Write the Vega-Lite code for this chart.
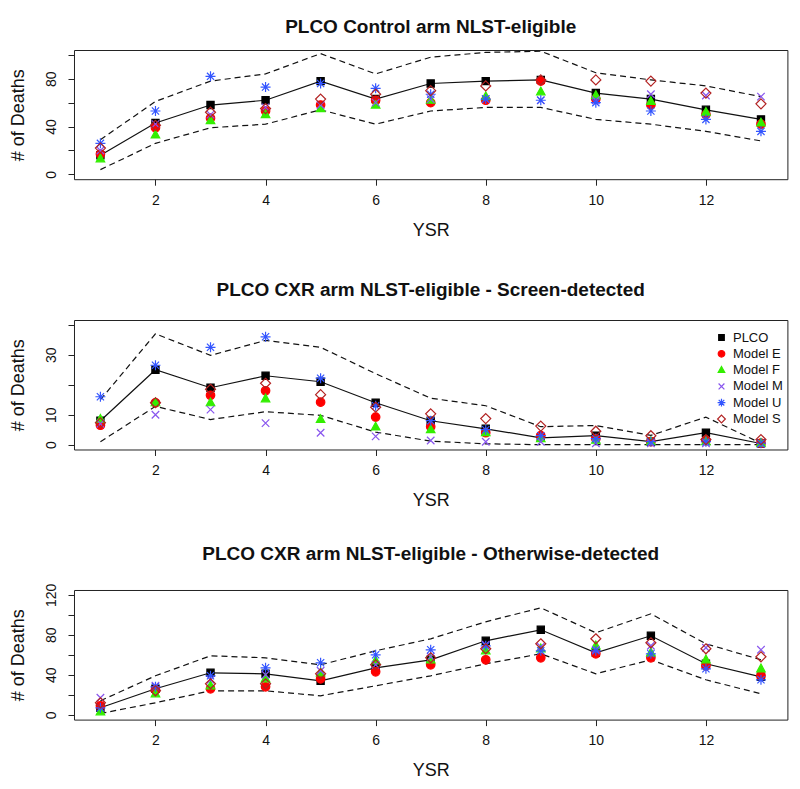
{
  "$schema": "https://vega.github.io/schema/vega-lite/v6.json",
  "background": "white",
  "padding": {"left": 9, "top": 17, "right": 5, "bottom": 5},
  "spacing": 140,
  "bounds": "flush",
  "datasets": {
    "pts": [
      {"p":1,"x":1,"s":"PLCO","y":16},{"p":1,"x":1,"s":"Model E","y":17},{"p":1,"x":1,"s":"Model F","y":13},{"p":1,"x":1,"s":"Model M","y":20},{"p":1,"x":1,"s":"Model U","y":26},{"p":1,"x":1,"s":"Model S","y":22},
      {"p":1,"x":2,"s":"PLCO","y":43},{"p":1,"x":2,"s":"Model E","y":39},{"p":1,"x":2,"s":"Model F","y":33},{"p":1,"x":2,"s":"Model M","y":42},{"p":1,"x":2,"s":"Model U","y":53},{"p":1,"x":2,"s":"Model S","y":41},
      {"p":1,"x":3,"s":"PLCO","y":58},{"p":1,"x":3,"s":"Model E","y":47},{"p":1,"x":3,"s":"Model F","y":45},{"p":1,"x":3,"s":"Model M","y":50},{"p":1,"x":3,"s":"Model U","y":82},{"p":1,"x":3,"s":"Model S","y":52},
      {"p":1,"x":4,"s":"PLCO","y":62},{"p":1,"x":4,"s":"Model E","y":53},{"p":1,"x":4,"s":"Model F","y":50},{"p":1,"x":4,"s":"Model M","y":56},{"p":1,"x":4,"s":"Model U","y":73},{"p":1,"x":4,"s":"Model S","y":55},
      {"p":1,"x":5,"s":"PLCO","y":78},{"p":1,"x":5,"s":"Model E","y":58},{"p":1,"x":5,"s":"Model F","y":55},{"p":1,"x":5,"s":"Model M","y":58},{"p":1,"x":5,"s":"Model U","y":76},{"p":1,"x":5,"s":"Model S","y":63},
      {"p":1,"x":6,"s":"PLCO","y":63},{"p":1,"x":6,"s":"Model E","y":62},{"p":1,"x":6,"s":"Model F","y":58},{"p":1,"x":6,"s":"Model M","y":60},{"p":1,"x":6,"s":"Model U","y":72},{"p":1,"x":6,"s":"Model S","y":67},
      {"p":1,"x":7,"s":"PLCO","y":76},{"p":1,"x":7,"s":"Model E","y":60},{"p":1,"x":7,"s":"Model F","y":62},{"p":1,"x":7,"s":"Model M","y":63},{"p":1,"x":7,"s":"Model U","y":67},{"p":1,"x":7,"s":"Model S","y":70},
      {"p":1,"x":8,"s":"PLCO","y":78},{"p":1,"x":8,"s":"Model E","y":62},{"p":1,"x":8,"s":"Model F","y":65},{"p":1,"x":8,"s":"Model M","y":63},{"p":1,"x":8,"s":"Model U","y":63},{"p":1,"x":8,"s":"Model S","y":74},
      {"p":1,"x":9,"s":"PLCO","y":79},{"p":1,"x":9,"s":"Model E","y":78},{"p":1,"x":9,"s":"Model F","y":69},{"p":1,"x":9,"s":"Model M","y":62},{"p":1,"x":9,"s":"Model U","y":62},{"p":1,"x":9,"s":"Model S","y":79},
      {"p":1,"x":10,"s":"PLCO","y":68},{"p":1,"x":10,"s":"Model E","y":63},{"p":1,"x":10,"s":"Model F","y":66},{"p":1,"x":10,"s":"Model M","y":62},{"p":1,"x":10,"s":"Model U","y":60},{"p":1,"x":10,"s":"Model S","y":79},
      {"p":1,"x":11,"s":"PLCO","y":63},{"p":1,"x":11,"s":"Model E","y":58},{"p":1,"x":11,"s":"Model F","y":61},{"p":1,"x":11,"s":"Model M","y":67},{"p":1,"x":11,"s":"Model U","y":53},{"p":1,"x":11,"s":"Model S","y":78},
      {"p":1,"x":12,"s":"PLCO","y":54},{"p":1,"x":12,"s":"Model E","y":50},{"p":1,"x":12,"s":"Model F","y":52},{"p":1,"x":12,"s":"Model M","y":66},{"p":1,"x":12,"s":"Model U","y":46},{"p":1,"x":12,"s":"Model S","y":68},
      {"p":1,"x":13,"s":"PLCO","y":46},{"p":1,"x":13,"s":"Model E","y":42},{"p":1,"x":13,"s":"Model F","y":43},{"p":1,"x":13,"s":"Model M","y":65},{"p":1,"x":13,"s":"Model U","y":36},{"p":1,"x":13,"s":"Model S","y":59},

      {"p":2,"x":1,"s":"PLCO","y":8},{"p":2,"x":1,"s":"Model E","y":6.5},{"p":2,"x":1,"s":"Model F","y":8.5},{"p":2,"x":1,"s":"Model M","y":7},{"p":2,"x":1,"s":"Model U","y":16},{"p":2,"x":1,"s":"Model S","y":7.3},
      {"p":2,"x":2,"s":"PLCO","y":25},{"p":2,"x":2,"s":"Model E","y":14},{"p":2,"x":2,"s":"Model F","y":14},{"p":2,"x":2,"s":"Model M","y":10},{"p":2,"x":2,"s":"Model U","y":26.5},{"p":2,"x":2,"s":"Model S","y":14},
      {"p":2,"x":3,"s":"PLCO","y":19},{"p":2,"x":3,"s":"Model E","y":16.5},{"p":2,"x":3,"s":"Model F","y":14},{"p":2,"x":3,"s":"Model M","y":11.7},{"p":2,"x":3,"s":"Model U","y":32.5},{"p":2,"x":3,"s":"Model S","y":18.5},
      {"p":2,"x":4,"s":"PLCO","y":23},{"p":2,"x":4,"s":"Model E","y":18},{"p":2,"x":4,"s":"Model F","y":15.3},{"p":2,"x":4,"s":"Model M","y":7.2},{"p":2,"x":4,"s":"Model U","y":36},{"p":2,"x":4,"s":"Model S","y":20.5},
      {"p":2,"x":5,"s":"PLCO","y":21},{"p":2,"x":5,"s":"Model E","y":14.2},{"p":2,"x":5,"s":"Model F","y":8.4},{"p":2,"x":5,"s":"Model M","y":4},{"p":2,"x":5,"s":"Model U","y":22.2},{"p":2,"x":5,"s":"Model S","y":16.7},
      {"p":2,"x":6,"s":"PLCO","y":14},{"p":2,"x":6,"s":"Model E","y":9.2},{"p":2,"x":6,"s":"Model F","y":5.9},{"p":2,"x":6,"s":"Model M","y":2.8},{"p":2,"x":6,"s":"Model U","y":13},{"p":2,"x":6,"s":"Model S","y":12.5},
      {"p":2,"x":7,"s":"PLCO","y":8},{"p":2,"x":7,"s":"Model E","y":6},{"p":2,"x":7,"s":"Model F","y":5},{"p":2,"x":7,"s":"Model M","y":1.4},{"p":2,"x":7,"s":"Model U","y":8},{"p":2,"x":7,"s":"Model S","y":10.3},
      {"p":2,"x":8,"s":"PLCO","y":5.3},{"p":2,"x":8,"s":"Model E","y":4},{"p":2,"x":8,"s":"Model F","y":4},{"p":2,"x":8,"s":"Model M","y":1},{"p":2,"x":8,"s":"Model U","y":5},{"p":2,"x":8,"s":"Model S","y":8.7},
      {"p":2,"x":9,"s":"PLCO","y":2.3},{"p":2,"x":9,"s":"Model E","y":3},{"p":2,"x":9,"s":"Model F","y":2},{"p":2,"x":9,"s":"Model M","y":1},{"p":2,"x":9,"s":"Model U","y":3},{"p":2,"x":9,"s":"Model S","y":6.2},
      {"p":2,"x":10,"s":"PLCO","y":3},{"p":2,"x":10,"s":"Model E","y":2},{"p":2,"x":10,"s":"Model F","y":1.5},{"p":2,"x":10,"s":"Model M","y":0.5},{"p":2,"x":10,"s":"Model U","y":2},{"p":2,"x":10,"s":"Model S","y":4.5},
      {"p":2,"x":11,"s":"PLCO","y":1},{"p":2,"x":11,"s":"Model E","y":1},{"p":2,"x":11,"s":"Model F","y":1},{"p":2,"x":11,"s":"Model M","y":0.5},{"p":2,"x":11,"s":"Model U","y":1},{"p":2,"x":11,"s":"Model S","y":3},
      {"p":2,"x":12,"s":"PLCO","y":4},{"p":2,"x":12,"s":"Model E","y":1.5},{"p":2,"x":12,"s":"Model F","y":1},{"p":2,"x":12,"s":"Model M","y":0.5},{"p":2,"x":12,"s":"Model U","y":1},{"p":2,"x":12,"s":"Model S","y":1.7},
      {"p":2,"x":13,"s":"PLCO","y":0.4},{"p":2,"x":13,"s":"Model E","y":0.5},{"p":2,"x":13,"s":"Model F","y":0.5},{"p":2,"x":13,"s":"Model M","y":0.3},{"p":2,"x":13,"s":"Model U","y":0.5},{"p":2,"x":13,"s":"Model S","y":1.7},

      {"p":3,"x":1,"s":"PLCO","y":7},{"p":3,"x":1,"s":"Model E","y":9},{"p":3,"x":1,"s":"Model F","y":3},{"p":3,"x":1,"s":"Model M","y":17},{"p":3,"x":1,"s":"Model U","y":7},{"p":3,"x":1,"s":"Model S","y":12},
      {"p":3,"x":2,"s":"PLCO","y":26},{"p":3,"x":2,"s":"Model E","y":25},{"p":3,"x":2,"s":"Model F","y":21},{"p":3,"x":2,"s":"Model M","y":29},{"p":3,"x":2,"s":"Model U","y":28},{"p":3,"x":2,"s":"Model S","y":24},
      {"p":3,"x":3,"s":"PLCO","y":42},{"p":3,"x":3,"s":"Model E","y":26},{"p":3,"x":3,"s":"Model F","y":29},{"p":3,"x":3,"s":"Model M","y":35},{"p":3,"x":3,"s":"Model U","y":39},{"p":3,"x":3,"s":"Model S","y":31},
      {"p":3,"x":4,"s":"PLCO","y":41},{"p":3,"x":4,"s":"Model E","y":28},{"p":3,"x":4,"s":"Model F","y":36},{"p":3,"x":4,"s":"Model M","y":40},{"p":3,"x":4,"s":"Model U","y":47},{"p":3,"x":4,"s":"Model S","y":31},
      {"p":3,"x":5,"s":"PLCO","y":34},{"p":3,"x":5,"s":"Model E","y":36},{"p":3,"x":5,"s":"Model F","y":42},{"p":3,"x":5,"s":"Model M","y":44},{"p":3,"x":5,"s":"Model U","y":52},{"p":3,"x":5,"s":"Model S","y":41},
      {"p":3,"x":6,"s":"PLCO","y":47},{"p":3,"x":6,"s":"Model E","y":43},{"p":3,"x":6,"s":"Model F","y":54},{"p":3,"x":6,"s":"Model M","y":50},{"p":3,"x":6,"s":"Model U","y":60},{"p":3,"x":6,"s":"Model S","y":50},
      {"p":3,"x":7,"s":"PLCO","y":55},{"p":3,"x":7,"s":"Model E","y":50},{"p":3,"x":7,"s":"Model F","y":55},{"p":3,"x":7,"s":"Model M","y":58},{"p":3,"x":7,"s":"Model U","y":65},{"p":3,"x":7,"s":"Model S","y":57},
      {"p":3,"x":8,"s":"PLCO","y":74},{"p":3,"x":8,"s":"Model E","y":55},{"p":3,"x":8,"s":"Model F","y":64},{"p":3,"x":8,"s":"Model M","y":70},{"p":3,"x":8,"s":"Model U","y":69},{"p":3,"x":8,"s":"Model S","y":66},
      {"p":3,"x":9,"s":"PLCO","y":85},{"p":3,"x":9,"s":"Model E","y":57},{"p":3,"x":9,"s":"Model F","y":66},{"p":3,"x":9,"s":"Model M","y":68},{"p":3,"x":9,"s":"Model U","y":64},{"p":3,"x":9,"s":"Model S","y":71},
      {"p":3,"x":10,"s":"PLCO","y":62},{"p":3,"x":10,"s":"Model E","y":61},{"p":3,"x":10,"s":"Model F","y":69},{"p":3,"x":10,"s":"Model M","y":65},{"p":3,"x":10,"s":"Model U","y":64},{"p":3,"x":10,"s":"Model S","y":76},
      {"p":3,"x":11,"s":"PLCO","y":79},{"p":3,"x":11,"s":"Model E","y":57},{"p":3,"x":11,"s":"Model F","y":62},{"p":3,"x":11,"s":"Model M","y":69},{"p":3,"x":11,"s":"Model U","y":61},{"p":3,"x":11,"s":"Model S","y":72},
      {"p":3,"x":12,"s":"PLCO","y":51},{"p":3,"x":12,"s":"Model E","y":49},{"p":3,"x":12,"s":"Model F","y":55},{"p":3,"x":12,"s":"Model M","y":67},{"p":3,"x":12,"s":"Model U","y":46},{"p":3,"x":12,"s":"Model S","y":66},
      {"p":3,"x":13,"s":"PLCO","y":38},{"p":3,"x":13,"s":"Model E","y":39},{"p":3,"x":13,"s":"Model F","y":46},{"p":3,"x":13,"s":"Model M","y":65},{"p":3,"x":13,"s":"Model U","y":35},{"p":3,"x":13,"s":"Model S","y":58}
    ],
    "bands": [
      {"p":1,"x":1,"b":"upper","y":29},{"p":1,"x":2,"b":"upper","y":61},{"p":1,"x":3,"b":"upper","y":78},{"p":1,"x":4,"b":"upper","y":84},{"p":1,"x":5,"b":"upper","y":101},{"p":1,"x":6,"b":"upper","y":84},{"p":1,"x":7,"b":"upper","y":98},{"p":1,"x":8,"b":"upper","y":102},{"p":1,"x":9,"b":"upper","y":103},{"p":1,"x":10,"b":"upper","y":85},{"p":1,"x":11,"b":"upper","y":79},{"p":1,"x":12,"b":"upper","y":74},{"p":1,"x":13,"b":"upper","y":65},
      {"p":1,"x":1,"b":"lower","y":4},{"p":1,"x":2,"b":"lower","y":26},{"p":1,"x":3,"b":"lower","y":39},{"p":1,"x":4,"b":"lower","y":42},{"p":1,"x":5,"b":"lower","y":54},{"p":1,"x":6,"b":"lower","y":42},{"p":1,"x":7,"b":"lower","y":53},{"p":1,"x":8,"b":"lower","y":56},{"p":1,"x":9,"b":"lower","y":56},{"p":1,"x":10,"b":"lower","y":46},{"p":1,"x":11,"b":"lower","y":42},{"p":1,"x":12,"b":"lower","y":36},{"p":1,"x":13,"b":"lower","y":28},
      {"p":2,"x":1,"b":"upper","y":15},{"p":2,"x":2,"b":"upper","y":37},{"p":2,"x":3,"b":"upper","y":29.8},{"p":2,"x":4,"b":"upper","y":34.8},{"p":2,"x":5,"b":"upper","y":32.5},{"p":2,"x":6,"b":"upper","y":23.7},{"p":2,"x":7,"b":"upper","y":15.5},{"p":2,"x":8,"b":"upper","y":13},{"p":2,"x":9,"b":"upper","y":6},{"p":2,"x":10,"b":"upper","y":6.4},{"p":2,"x":11,"b":"upper","y":3.1},{"p":2,"x":12,"b":"upper","y":9.2},{"p":2,"x":13,"b":"upper","y":0.5},
      {"p":2,"x":1,"b":"lower","y":1},{"p":2,"x":2,"b":"lower","y":12.8},{"p":2,"x":3,"b":"lower","y":8.4},{"p":2,"x":4,"b":"lower","y":11},{"p":2,"x":5,"b":"lower","y":9.8},{"p":2,"x":6,"b":"lower","y":4.2},{"p":2,"x":7,"b":"lower","y":1.2},{"p":2,"x":8,"b":"lower","y":0.3},{"p":2,"x":9,"b":"lower","y":0},{"p":2,"x":10,"b":"lower","y":0},{"p":2,"x":11,"b":"lower","y":0},{"p":2,"x":12,"b":"lower","y":0},{"p":2,"x":13,"b":"lower","y":0},
      {"p":3,"x":1,"b":"upper","y":14},{"p":3,"x":2,"b":"upper","y":39},{"p":3,"x":3,"b":"upper","y":59},{"p":3,"x":4,"b":"upper","y":57},{"p":3,"x":5,"b":"upper","y":50},{"p":3,"x":6,"b":"upper","y":64},{"p":3,"x":7,"b":"upper","y":76},{"p":3,"x":8,"b":"upper","y":93},{"p":3,"x":9,"b":"upper","y":107},{"p":3,"x":10,"b":"upper","y":82},{"p":3,"x":11,"b":"upper","y":101},{"p":3,"x":12,"b":"upper","y":71},{"p":3,"x":13,"b":"upper","y":55},
      {"p":3,"x":1,"b":"lower","y":1.3},{"p":3,"x":2,"b":"lower","y":12},{"p":3,"x":3,"b":"lower","y":24},{"p":3,"x":4,"b":"lower","y":24},{"p":3,"x":5,"b":"lower","y":19},{"p":3,"x":6,"b":"lower","y":29},{"p":3,"x":7,"b":"lower","y":39},{"p":3,"x":8,"b":"lower","y":51},{"p":3,"x":9,"b":"lower","y":61},{"p":3,"x":10,"b":"lower","y":41},{"p":3,"x":11,"b":"lower","y":55},{"p":3,"x":12,"b":"lower","y":35},{"p":3,"x":13,"b":"lower","y":21}
    ]
  },
  "vconcat": [
    {
      "title": {"text": "PLCO Control arm NLST-eligible", "offset": 12},
      "width": 713.4,
      "height": 129.2,
      "resolve": {"scale": {"shape": "independent", "fill": "independent", "stroke": "independent"}},
      "encoding": {
        "x": {"field": "x", "type": "quantitative", "scale": {"domain": [0.52, 13.48], "nice": false, "zero": false}, "axis": {"values": [2, 4, 6, 8, 10, 12], "title": "YSR"}},
        "y": {"field": "y", "type": "quantitative", "scale": {"domain": [-4, 104], "nice": false, "zero": false}, "axis": {"values": [0, 20, 40, 60, 80, 100], "labelExpr": "datum.value % 40 == 0 ? datum.label : ''", "title": "# of Deaths", "labelAngle": 270, "labelAlign": "center", "labelBaseline": "bottom", "labelPadding": 9}}
      },
      "layer": [
        {"data": {"name": "bands"}, "transform": [{"filter": "datum.p == 1"}], "mark": {"type": "line", "color": "#111", "strokeWidth": 1.2, "strokeDash": [6, 4]}, "encoding": {"detail": {"field": "b"}}},
        {"data": {"name": "pts"}, "transform": [{"filter": "datum.p == 1 && datum.s == 'PLCO'"}], "mark": {"type": "line", "color": "#111", "strokeWidth": 1.2}, "encoding": {}},
        {"data": {"name": "pts"}, "transform": [{"filter": "datum.p == 1"}], "mark": {"type": "point", "size": 100, "opacity": 1, "strokeWidth": 1.2},
          "encoding": {
            "shape": {"field": "s", "type": "nominal", "sort": null, "scale": {"domain": ["PLCO","Model E","Model F","Model M","Model U","Model S"], "range": ["M-0.72,-0.72H0.72V0.72H-0.72Z","M0.85,0A0.85,0.85 0 1,1 -0.85,0A0.85,0.85 0 1,1 0.85,0Z","M0,-0.95L0.85,0.6L-0.85,0.6Z","M-0.75,-0.75L0.75,0.75M-0.75,0.75L0.75,-0.75","M-1,0L1,0M0,-1L0,1M-0.72,-0.72L0.72,0.72M-0.72,0.72L0.72,-0.72","M0,-1L1,0L0,1L-1,0Z"]}, "legend": null},
            "fill": {"field": "s", "type": "nominal", "sort": null, "scale": {"domain": ["PLCO","Model E","Model F","Model M","Model U","Model S"], "range": ["#000000","#FF0000","#33EE00","transparent","transparent","transparent"]}, "legend": null},
            "stroke": {"field": "s", "type": "nominal", "sort": null, "scale": {"domain": ["PLCO","Model E","Model F","Model M","Model U","Model S"], "range": ["#000000","#FF0000","#33EE00","#8855EE","#3355FF","#B22222"]}, "legend": null}
          }}
      ]
    },
    {
      "title": {"text": "PLCO CXR arm NLST-eligible - Screen-detected", "offset": 20},
      "width": 713.4,
      "height": 129.5,
      "resolve": {"scale": {"shape": "independent", "fill": "independent", "stroke": "independent"}},
      "encoding": {
        "x": {"field": "x", "type": "quantitative", "scale": {"domain": [0.52, 13.48], "nice": false, "zero": false}, "axis": {"values": [2, 4, 6, 8, 10, 12], "title": "YSR"}},
        "y": {"field": "y", "type": "quantitative", "scale": {"domain": [-1.6, 41.6], "nice": false, "zero": false}, "axis": {"values": [0, 10, 20, 30, 40], "labelExpr": "datum.value == 20 || datum.value == 40 ? '' : datum.label", "title": "# of Deaths", "labelAngle": 270, "labelAlign": "center", "labelBaseline": "bottom", "labelPadding": 9}}
      },
      "layer": [
        {"data": {"name": "bands"}, "transform": [{"filter": "datum.p == 2"}], "mark": {"type": "line", "color": "#111", "strokeWidth": 1.2, "strokeDash": [6, 4]}, "encoding": {"detail": {"field": "b"}}},
        {"data": {"name": "pts"}, "transform": [{"filter": "datum.p == 2 && datum.s == 'PLCO'"}], "mark": {"type": "line", "color": "#111", "strokeWidth": 1.2}, "encoding": {}},
        {"data": {"name": "pts"}, "transform": [{"filter": "datum.p == 2"}], "mark": {"type": "point", "size": 100, "opacity": 1, "strokeWidth": 1.2},
          "encoding": {
            "shape": {"field": "s", "type": "nominal", "sort": null, "scale": {"domain": ["PLCO","Model E","Model F","Model M","Model U","Model S"], "range": ["M-0.72,-0.72H0.72V0.72H-0.72Z","M0.85,0A0.85,0.85 0 1,1 -0.85,0A0.85,0.85 0 1,1 0.85,0Z","M0,-0.95L0.85,0.6L-0.85,0.6Z","M-0.75,-0.75L0.75,0.75M-0.75,0.75L0.75,-0.75","M-1,0L1,0M0,-1L0,1M-0.72,-0.72L0.72,0.72M-0.72,0.72L0.72,-0.72","M0,-1L1,0L0,1L-1,0Z"]},
              "legend": {"orient": "none", "legendX": 641, "legendY": 11, "title": null, "padding": 0, "labelFont": "Liberation Sans", "labelFontSize": 13, "labelColor": "#111", "symbolSize": 60, "symbolStrokeWidth": 1.2, "rowPadding": 2.3, "labelOffset": 5}},
            "fill": {"field": "s", "type": "nominal", "sort": null, "scale": {"domain": ["PLCO","Model E","Model F","Model M","Model U","Model S"], "range": ["#000000","#FF0000","#33EE00","transparent","transparent","transparent"]},
              "legend": {"orient": "none", "legendX": 641, "legendY": 11, "title": null, "padding": 0, "labelFont": "Liberation Sans", "labelFontSize": 13, "labelColor": "#111", "symbolSize": 60, "symbolStrokeWidth": 1.2, "rowPadding": 2.3, "labelOffset": 5}},
            "stroke": {"field": "s", "type": "nominal", "sort": null, "scale": {"domain": ["PLCO","Model E","Model F","Model M","Model U","Model S"], "range": ["#000000","#FF0000","#33EE00","#8855EE","#3355FF","#B22222"]},
              "legend": {"orient": "none", "legendX": 641, "legendY": 11, "title": null, "padding": 0, "labelFont": "Liberation Sans", "labelFontSize": 13, "labelColor": "#111", "symbolSize": 60, "symbolStrokeWidth": 1.2, "rowPadding": 2.3, "labelOffset": 5}}
          }}
      ]
    },
    {
      "title": {"text": "PLCO CXR arm NLST-eligible - Otherwise-detected", "offset": 19},
      "width": 713.4,
      "height": 129.6,
      "resolve": {"scale": {"shape": "independent", "fill": "independent", "stroke": "independent"}},
      "encoding": {
        "x": {"field": "x", "type": "quantitative", "scale": {"domain": [0.52, 13.48], "nice": false, "zero": false}, "axis": {"values": [2, 4, 6, 8, 10, 12], "title": "YSR"}},
        "y": {"field": "y", "type": "quantitative", "scale": {"domain": [-4.8, 124.8], "nice": false, "zero": false}, "axis": {"values": [0, 20, 40, 60, 80, 100, 120], "labelExpr": "datum.value % 40 == 0 ? datum.label : ''", "title": "# of Deaths", "labelAngle": 270, "labelAlign": "center", "labelBaseline": "bottom", "labelPadding": 9}}
      },
      "layer": [
        {"data": {"name": "bands"}, "transform": [{"filter": "datum.p == 3"}], "mark": {"type": "line", "color": "#111", "strokeWidth": 1.2, "strokeDash": [6, 4]}, "encoding": {"detail": {"field": "b"}}},
        {"data": {"name": "pts"}, "transform": [{"filter": "datum.p == 3 && datum.s == 'PLCO'"}], "mark": {"type": "line", "color": "#111", "strokeWidth": 1.2}, "encoding": {}},
        {"data": {"name": "pts"}, "transform": [{"filter": "datum.p == 3"}], "mark": {"type": "point", "size": 100, "opacity": 1, "strokeWidth": 1.2},
          "encoding": {
            "shape": {"field": "s", "type": "nominal", "sort": null, "scale": {"domain": ["PLCO","Model E","Model F","Model M","Model U","Model S"], "range": ["M-0.72,-0.72H0.72V0.72H-0.72Z","M0.85,0A0.85,0.85 0 1,1 -0.85,0A0.85,0.85 0 1,1 0.85,0Z","M0,-0.95L0.85,0.6L-0.85,0.6Z","M-0.75,-0.75L0.75,0.75M-0.75,0.75L0.75,-0.75","M-1,0L1,0M0,-1L0,1M-0.72,-0.72L0.72,0.72M-0.72,0.72L0.72,-0.72","M0,-1L1,0L0,1L-1,0Z"]}, "legend": null},
            "fill": {"field": "s", "type": "nominal", "sort": null, "scale": {"domain": ["PLCO","Model E","Model F","Model M","Model U","Model S"], "range": ["#000000","#FF0000","#33EE00","transparent","transparent","transparent"]}, "legend": null},
            "stroke": {"field": "s", "type": "nominal", "sort": null, "scale": {"domain": ["PLCO","Model E","Model F","Model M","Model U","Model S"], "range": ["#000000","#FF0000","#33EE00","#8855EE","#3355FF","#B22222"]}, "legend": null}
          }}
      ]
    }
  ],
  "config": {
    "view": {"stroke": "#222", "strokeWidth": 1},
    "axis": {"domain": false, "grid": false, "ticks": true, "tickColor": "#222", "tickSize": 6, "tickWidth": 1, "labelFlush": false, "labelOverlap": false, "labelFont": "Liberation Sans", "labelFontSize": 14, "labelColor": "#111", "titleFont": "Liberation Sans", "titleFontSize": 18, "titleFontWeight": "normal", "titleColor": "#111"},
    "axisX": {"labelPadding": 8, "titleX": 356.7, "titleY": 51, "titleBaseline": "middle", "titleAlign": "center"},
    "axisY": {"titleAngle": 270, "titleX": -55, "titleY": 64.7, "titleAlign": "center", "titleBaseline": "middle"},
    "title": {"font": "Liberation Sans", "fontSize": 19, "fontWeight": "bold", "anchor": "middle", "baseline": "alphabetic", "color": "#111"}
  }
}
